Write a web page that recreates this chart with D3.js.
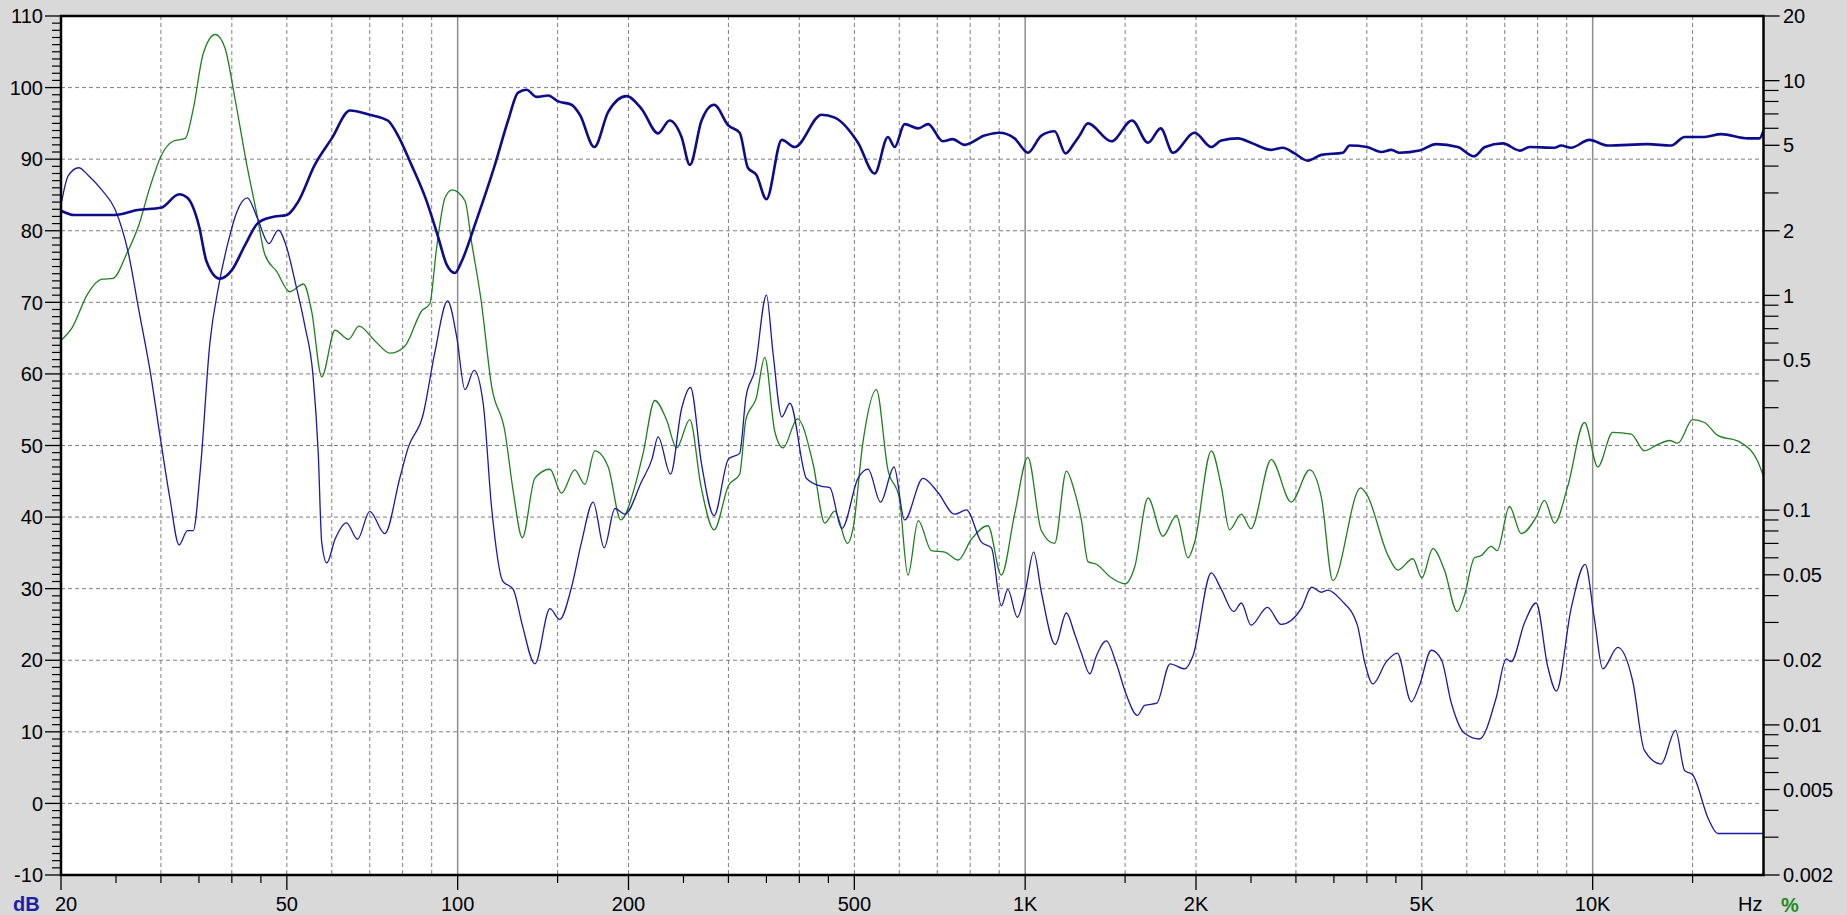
<!DOCTYPE html>
<html><head><meta charset="utf-8">
<script src="https://cdn.jsdelivr.net/npm/d3@7"></script>
<style>
html,body{margin:0;padding:0;background:#d9d9d9;overflow:hidden;}
svg{display:block;font-family:"Liberation Sans",Arial,sans-serif;}
</style></head><body>
<svg id="c" width="1847" height="915"></svg>
<script>
// ---- Frequency response (thick blue, dB axis)
const frFreq = [20,21.1,24.9,27.3,30,32.3,33.4,35,36.1,38.1,40,42.2,44.5,47,50,52.3,56,60,64.6,70,75.3,78.5,82.9,88.1,92.4,95.6,98.9,101.6,107.3,116.3,122.7,127.8,132.2,137.8,144.4,150,158.7,164.2,174.1,184.2,198.4,211,225.5,236.3,248,256.5,269,283,300,314,324.6,336,350,372.5,392.7,437.7,461.9,507.5,543,573,589,613,648,674.5,716,745,782,848,900,958,1011,1068,1127,1178,1222,1247,1290,1419,1543,1646,1733,1821,1989,2128,2216,2371,2500,2714,2844,2983,3149,3327,3629,3731,4000,4240,4417,4568,4953,5300,5786,6172,6462,6943,7443,7739,8566,8800,9162,9871,10630,12500,13750,14520,15740,16840,18770,19680,20000];
const frDb = [82.8,82.2,82.2,82.9,83.2,85.1,84.6,80.7,75.7,73.3,74.5,78,81.1,81.9,82.2,84,89.2,92.9,96.8,96.2,95.4,93.3,89.2,84.2,79.1,75.3,74.1,75.7,80.9,89.2,95.4,99.3,99.7,98.7,98.9,98.1,97.6,96.2,91.7,96.6,98.8,97,93.6,95.4,93.1,89.2,95.4,97.6,94.7,93.7,88.8,87.8,84.4,92.7,91.7,96.2,95.8,92.3,88,93.1,91.7,94.9,94.3,94.9,92.5,92.8,92,93.3,93.7,92.9,90.9,93.3,93.9,90.8,92.3,93.3,95,92.5,95.4,92.3,94.3,90.9,93.7,91.7,92.6,92.9,92.3,91.3,91.6,90.8,89.8,90.6,90.9,91.9,91.7,91,91.3,90.9,91.2,92.1,91.7,90.4,91.7,92.2,91.2,91.7,91.6,91.9,91.6,92.7,91.9,92.1,91.9,93.1,93.1,93.5,92.9,92.9,94];

// ---- Thin blue curve (dB axis)
const h2Freq = [20,20.6,21.5,22.3,23.6,24.9,26.3,27.4,28.7,30,31.1,32.3,33.4,34.2,35.2,36.6,37.9,39.4,40.8,42.6,44.3,46.5,48.3,50,51.7,53.8,55.6,56.8,57.6,58.8,60.8,63.7,66.6,70,74.4,79.1,81.8,86.9,91.1,96,99.6,103,106.9,110.9,114.8,120,125.3,130,136.8,145.4,151.3,158.7,165.3,173.3,181.2,189.3,197,211,220,225.5,237.2,248,257.2,269,283,300,314,322,333.8,350,359.5,372.5,385,411.8,437.7,452.6,475.3,507.5,528.6,556.2,587.4,613,660.5,701,751,787.8,837.2,872,907.8,932,968.8,1000,1035,1068,1130,1182,1222,1256,1300,1335,1390,1448,1507,1577,1624,1705,1800,1911,1975,2128,2216,2331,2404,2500,2672,2826,3065,3199,3327,3414,3605,3849,3963,4099,4330,4526,4790,4953,5195,5412,5637,5945,6318,6763,7040,7183,7590,7951,8334,8630,9162,9700,10073,10418,11072,11763,12335,13200,14000,14520,15000,16000,16610,20000];
const h2Db = [83.6,87.7,88.8,87.8,85.7,83,76.8,69.1,60.5,50.5,42.7,36.1,38.1,38.1,46.6,64.4,72.2,78.4,82.6,84.6,81.9,78.2,80.1,77.6,72.9,66.7,59.8,48.9,36.5,33.6,36.9,39.2,36.9,40.8,37.7,45.5,49.7,54.3,62.9,70.2,65.2,57.8,60.5,55.9,41.2,31.1,29.9,24.9,19.5,27.2,25.7,30.2,36.5,42.1,35.7,41.2,40.4,45,48.1,51.2,46,55.1,58.1,47.4,40.2,48.1,48.9,56.7,60.5,71,62.9,54,55.9,45.4,44.3,44.1,38.4,45.4,46.7,42.1,47,39.6,45.4,43.5,40.4,41,36.5,35.7,27.6,29.9,26,29.5,35.1,29.5,22.2,26.6,23.7,21,18.1,20.6,22.7,19.5,15.2,12.3,13.7,14,19.5,18.8,20.6,32.2,29.9,26.8,28,24.9,27.4,25,27.2,30.2,29.5,29.8,28.4,24.9,19.8,16.7,19.8,21,14.2,16.5,21.4,20.1,14,9.8,9,14.8,20.2,19.8,25.3,28,19.1,15.7,27.2,33.4,25.7,18.8,21.8,17.1,7.4,5.5,10.2,4.6,4,-2.2,-4.2,-4.2];

// ---- Green curve (% axis)
const h3Freq = [20,20.9,22.3,23.6,24.7,26.1,27.4,28.7,30,31.5,33.1,34.2,35.6,37.4,38.9,40.5,42.5,44.3,45.7,48,50.6,53.5,55.3,57.6,60.8,64.2,67,71.5,76,80.7,86.4,89.3,91.8,95,97.8,103,105.8,110,114.8,121.1,125.3,130,136.8,145.4,152.4,160.8,167.5,174.5,184.2,193.9,205.2,212.2,222.5,233.3,243.1,256.5,268.4,283,300,314,322,336,347.6,362,374.4,397,423,443.5,461.9,486.4,497.4,517.9,546.7,573,600,621.5,648,683.4,721.5,762,803.9,860,907.8,958,1011,1068,1127,1182,1222,1256,1290,1335,1419,1500,1559,1646,1749,1847,1936,1989,2128,2216,2291,2404,2500,2714,2943,3172,3327,3484,3900,4000,4360,4537,4822,5000,5229,5480,5771,5945,6190,6360,6627,6787,7134,7482,7951,8223,8566,9037,9673,10209,10850,11690,12335,13020,13660,14125,15000,15740,16610,18140,19530,20000];
const h3Pct = [0.618,0.704,1.02,1.19,1.2,1.56,2.11,3.2,4.45,5.22,5.38,7.37,13.3,16.4,14.2,8.28,4.06,2.37,1.56,1.29,1.04,1.13,0.842,0.418,0.688,0.624,0.72,0.614,0.538,0.58,0.846,0.914,1.66,2.85,3.1,2.76,1.77,0.944,0.376,0.233,0.122,0.0744,0.141,0.155,0.12,0.154,0.132,0.189,0.159,0.09,0.129,0.184,0.324,0.264,0.195,0.264,0.129,0.081,0.13,0.147,0.264,0.334,0.514,0.233,0.195,0.266,0.164,0.087,0.099,0.07,0.082,0.208,0.364,0.154,0.114,0.0498,0.0894,0.0648,0.0638,0.0586,0.0732,0.0846,0.0498,0.0958,0.176,0.0802,0.07,0.152,0.122,0.09,0.0576,0.056,0.0484,0.0454,0.0542,0.114,0.0756,0.0944,0.06,0.071,0.189,0.129,0.081,0.0958,0.082,0.172,0.109,0.154,0.114,0.047,0.127,0.118,0.0614,0.0526,0.0594,0.0484,0.0662,0.0526,0.0337,0.0402,0.06,0.0614,0.0678,0.0648,0.104,0.0778,0.0928,0.111,0.087,0.129,0.256,0.159,0.23,0.226,0.189,0.202,0.211,0.205,0.264,0.256,0.223,0.208,0.169,0.144];

// ---- Axis ticks
const xLabelVals = [20,50,100,200,500,1000,2000,5000,10000];
const xLabelText = ["20","50","100","200","500","1K","2K","5K","10K"];
const xMinorVals = [25,30,35,40,45,150,250,300,350,400,450,1500,2500,3000,3500,4000,4500,15000];
const xGridDashed = [30,40,50,60,70,80,90,150,200,300,400,500,600,700,800,900,1500,2000,3000,4000,5000,6000,7000,8000,9000,15000];
const xGridSolid = [100,1000,10000];
const dbLabels = [-10,0,10,20,30,40,50,60,70,80,90,100,110];
const pctLabelVals = [20,10,5,2,1,0.5,0.2,0.1,0.05,0.02,0.01,0.005,0.002];
const pctLabelText = ["20","10","5","2","1","0.5","0.2","0.1","0.05","0.02","0.01","0.005","0.002"];
const pctMinorVals = [9,8,7,6,4,3,0.9,0.8,0.7,0.6,0.4,0.3,0.09,0.08,0.07,0.06,0.04,0.03,0.009,0.008,0.007,0.006,0.004,0.003];

const L = 61, R = 1763.5, T = 16, B = 875;
const x = d3.scaleLog().domain([20,20000]).range([L,R]);
const yDb = d3.scaleLinear().domain([-10,110]).range([B,T]);
const yPct = d3.scaleLog().domain([0.002,20]).range([B,T]);

const svg = d3.select("#c");
svg.append("rect").attr("x",0).attr("y",0).attr("width",1847).attr("height",915).attr("fill","#d9d9d9");
svg.append("defs").append("clipPath").attr("id","clip").append("rect")
  .attr("x",L).attr("y",T).attr("width",R-L).attr("height",B-T);
svg.append("rect").attr("x",L).attr("y",T).attr("width",R-L).attr("height",B-T).attr("fill","#ffffff");

const grid = svg.append("g");
// horizontal dashed grid
grid.selectAll("line.h").data(dbLabels.filter(v=>v>-10&&v<110)).join("line")
  .attr("x1",L).attr("x2",R).attr("y1",d=>yDb(d)).attr("y2",d=>yDb(d))
  .attr("stroke","#7f7f7f").attr("stroke-width",1).attr("stroke-dasharray","4,3");
grid.selectAll("line.v").data(xGridDashed).join("line")
  .attr("x1",d=>x(d)).attr("x2",d=>x(d)).attr("y1",T).attr("y2",B)
  .attr("stroke","#7f7f7f").attr("stroke-width",1).attr("stroke-dasharray","4,3");
grid.selectAll("line.s").data(xGridSolid).join("line")
  .attr("x1",d=>x(d)).attr("x2",d=>x(d)).attr("y1",T).attr("y2",B)
  .attr("stroke","#8c8c8c").attr("stroke-width",1.5);

const curves = svg.append("g").attr("clip-path","url(#clip)");
const mk = (fs, vs) => fs.map((f,i)=>[f,vs[i]]);
const lineDb = d3.line().x(d=>x(d[0])).y(d=>yDb(d[1])).curve(d3.curveMonotoneX);
const linePct = d3.line().x(d=>x(d[0])).y(d=>yPct(d[1])).curve(d3.curveMonotoneX);
curves.append("path").attr("d",linePct(mk(h3Freq,h3Pct))).attr("fill","none")
  .attr("stroke","#1f7f1f").attr("stroke-width",1.3);
curves.append("path").attr("d",lineDb(mk(h2Freq,h2Db))).attr("fill","none")
  .attr("stroke","#1a1aa6").attr("stroke-width",1.3);
curves.append("path").attr("d",lineDb(mk(frFreq,frDb))).attr("fill","none")
  .attr("stroke","#0c0c8c").attr("stroke-width",2.6);

// frame
svg.append("rect").attr("x",L).attr("y",T).attr("width",R-L).attr("height",B-T)
  .attr("fill","none").attr("stroke","#000").attr("stroke-width",2.5);

// left axis ticks
const minorDb = d3.range(-10,111,1).filter(v=>v%10!==0);
svg.append("g").selectAll("line").data(minorDb).join("line")
  .attr("x1",52).attr("x2",L).attr("y1",d=>yDb(d)).attr("y2",d=>yDb(d))
  .attr("stroke","#000").attr("stroke-width",1.2);
svg.append("g").selectAll("line").data(dbLabels).join("line")
  .attr("x1",45).attr("x2",L).attr("y1",d=>yDb(d)).attr("y2",d=>yDb(d))
  .attr("stroke","#000").attr("stroke-width",1.3);
svg.append("g").selectAll("text").data(dbLabels).join("text")
  .attr("x",43).attr("y",d=>yDb(d)).attr("dy","0.36em").attr("text-anchor","end")
  .attr("font-size",20).attr("fill","#000").text(d=>d);

// right axis ticks
svg.append("g").selectAll("line").data(pctMinorVals).join("line")
  .attr("x1",R).attr("x2",R+15).attr("y1",d=>yPct(d)).attr("y2",d=>yPct(d))
  .attr("stroke","#000").attr("stroke-width",1.2);
svg.append("g").selectAll("line").data(pctLabelVals).join("line")
  .attr("x1",R).attr("x2",R+16).attr("y1",d=>yPct(d)).attr("y2",d=>yPct(d))
  .attr("stroke","#000").attr("stroke-width",1.3);
svg.append("g").selectAll("text").data(pctLabelVals).join("text")
  .attr("x",1783).attr("y",d=>yPct(d)).attr("dy","0.36em").attr("text-anchor","start")
  .attr("font-size",20).attr("fill","#000").text((d,i)=>pctLabelText[i]);

// bottom axis ticks
svg.append("g").selectAll("line").data(xMinorVals).join("line")
  .attr("x1",d=>x(d)).attr("x2",d=>x(d)).attr("y1",B).attr("y2",B+8)
  .attr("stroke","#000").attr("stroke-width",1.2);
svg.append("g").selectAll("line").data(xLabelVals).join("line")
  .attr("x1",d=>x(d)).attr("x2",d=>x(d)).attr("y1",B).attr("y2",B+15)
  .attr("stroke","#000").attr("stroke-width",1.3);
svg.append("g").selectAll("text").data(xLabelVals).join("text")
  .attr("x",(d,i)=> i===0 ? 55 : x(d)).attr("y",911)
  .attr("text-anchor",(d,i)=> i===0 ? "start" : "middle")
  .attr("font-size",20).attr("fill","#000").text((d,i)=>xLabelText[i]);
svg.append("text").attr("x",R-1).attr("y",911).attr("text-anchor","end")
  .attr("font-size",20).attr("fill","#000").text("Hz");
svg.append("text").attr("x",13).attr("y",911).attr("font-size",20).attr("font-weight","bold")
  .attr("fill","#1e1ea6").text("dB");
svg.append("text").attr("x",1781).attr("y",912).attr("font-size",20).attr("font-weight","bold")
  .attr("fill","#1f8a1f").text("%");
</script>
</body></html>
